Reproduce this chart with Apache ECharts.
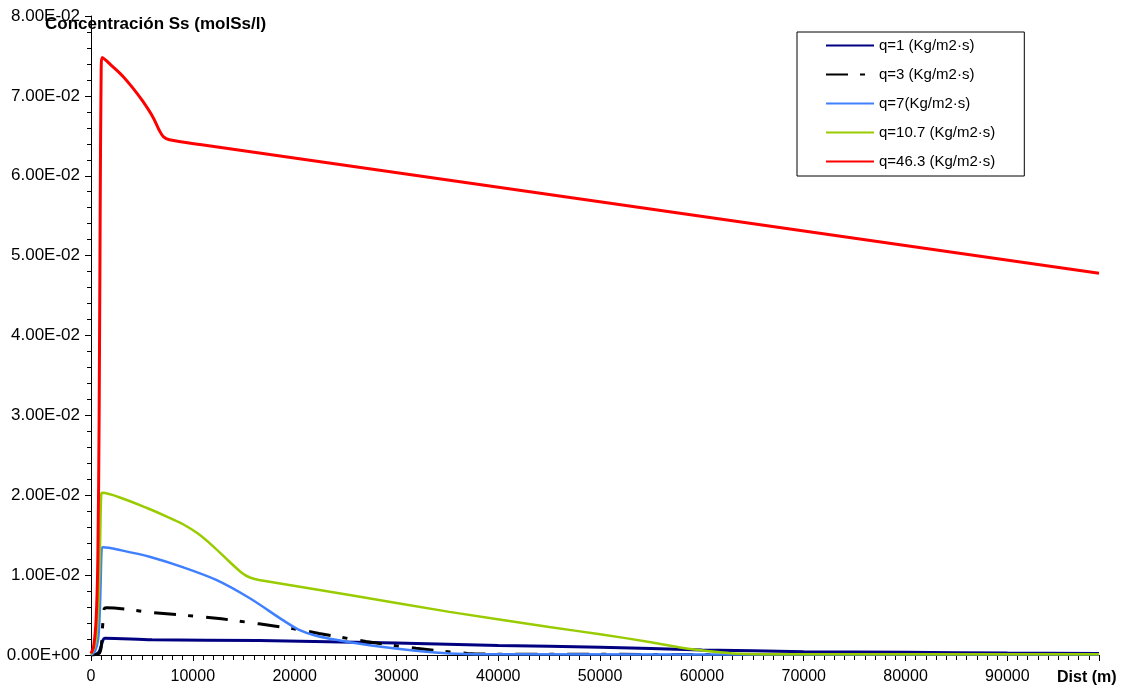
<!DOCTYPE html>
<html>
<head>
<meta charset="utf-8">
<script src="https://cdn.jsdelivr.net/npm/echarts@6/dist/echarts.min.js"></script>
<style>html,body{margin:0;padding:0;background:#fff;}#chart{width:1125px;height:693px;}</style>
</head>
<body>
<div id="chart"></div>
<script>
// Tick labels
const yTickLabels = ['0.00E+00','1.00E-02','2.00E-02','3.00E-02','4.00E-02','5.00E-02','6.00E-02','7.00E-02','8.00E-02'];
const xTickLabels = ['0','10000','20000','30000','40000','50000','60000','70000','80000','90000'];
const seriesNames = ['q=1 (Kg/m2·s)','q=3 (Kg/m2·s)','q=7(Kg/m2·s)','q=10.7 (Kg/m2·s)','q=46.3 (Kg/m2·s)'];

// Series values [distance (m), concentration (molSs/l)]
const q1 = [[0,0],[500,0.0001],[800,0.0004],[1000,0.0011],[1150,0.0018],[1350,0.0021],[6000,0.0019],[16500,0.0018],[30000,0.0015],[40000,0.0012],[50000,0.00096],[60000,0.00064],[70000,0.00042],[80000,0.00033],[90000,0.00025],[99000,0.0002]];
const q3 = [[0,0],[800,0.0002],[1000,0.001],[1100,0.003],[1200,0.0045],[1300,0.0058],[1500,0.0059],[6200,0.0053],[12300,0.0046],[16500,0.0039],[19800,0.0033],[22400,0.0027],[27000,0.0017],[31900,0.00084],[37000,0.0002],[40000,0.0001],[99000,0.00005]];
const q7 = [[0,0],[400,0.0005],[700,0.002],[850,0.005],[950,0.009],[1050,0.0133],[1200,0.0135],[3000,0.0131],[5750,0.0123],[9000,0.0110],[12300,0.0094],[15600,0.0071],[18800,0.0044],[20500,0.0031],[22100,0.0024],[25400,0.0016],[28700,0.0010],[31900,0.00054],[35200,0.0002],[38500,0.0001],[99000,0.00005]];
const q10 = [[0,0.0001],[300,0.0008],[500,0.002],[650,0.0045],[800,0.009],[900,0.0145],[1000,0.0200],[1100,0.0203],[3300,0.0195],[5500,0.0184],[7500,0.0173],[9000,0.0164],[10500,0.0152],[12000,0.0136],[13500,0.0118],[14800,0.0103],[15600,0.0097],[16500,0.0094],[25400,0.0075],[35200,0.0054],[45000,0.0035],[50000,0.0026],[55000,0.0016],[58000,0.0009],[60500,0.0005],[63000,0.0002],[66000,0.0001],[99000,0.0001]];
const q46 = [[0,0.0002],[250,0.001],[500,0.0044],[670,0.012],[800,0.03],[900,0.055],[1000,0.0735],[1100,0.0748],[2100,0.0737],[3100,0.0725],[4100,0.0710],[5100,0.0693],[6100,0.0673],[6700,0.0657],[7100,0.0649],[7700,0.0645],[10700,0.0639],[99000,0.0478]];

const colors = ['#000080','#000000','#4080FF','#99CC00','#FF0000'];
const widths = [3,3,2.5,2.5,3];
const dataSets = [q1,q3,q7,q10,q46];

const chart = echarts.init(document.getElementById('chart'));
const font = 'Liberation Sans, Arial, sans-serif';
chart.setOption({
  animation: false,
  backgroundColor: '#fff',
  title: [
    {text: 'Concentración Ss (molSs/l)', left: 45, top: 16, padding: 0,
     textStyle: {fontFamily: font, fontSize: 17, fontWeight: 'bold', color: '#000'}},
    {text: 'Dist (m)', left: 1057, top: 670, padding: 0,
     textStyle: {fontFamily: font, fontSize: 16, fontWeight: 'bold', color: '#000'}}
  ],
  grid: {left: 91, right: 26, top: 16, bottom: 38, containLabel: false},
  legend: {
    orient: 'vertical', left: 797, top: 32,
    padding: [6, 29, 7, 28],
    itemWidth: 48, itemHeight: 14, itemGap: 14,
    borderColor: '#000', borderWidth: 1, backgroundColor: '#fff',
    data: seriesNames,
    itemStyle: {opacity: 0},
    textStyle: {fontFamily: font, fontSize: 15, color: '#000', lineHeight: 15}
  },
  xAxis: {
    type: 'value', min: 0, max: 99000, interval: 10000,
    axisLine: {show: true, lineStyle: {color: '#000', width: 1}},
    axisTick: {show: true, length: 6, lineStyle: {color: '#000'}},
    minorTick: {show: true, splitNumber: 10, length: 5, lineStyle: {color: '#000'}},
    splitLine: {show: false},
    axisLabel: {fontFamily: font, fontSize: 16, color: '#000', margin: 14,
      formatter: function (v) { const i = Math.round(v / 10000); return xTickLabels[i] !== undefined ? xTickLabels[i] : ''; }}
  },
  yAxis: {
    type: 'value', min: 0, max: 0.08, interval: 0.01,
    axisLine: {show: true, lineStyle: {color: '#000', width: 1}},
    axisTick: {show: true, length: 6, lineStyle: {color: '#000'}},
    minorTick: {show: true, splitNumber: 5, length: 4, lineStyle: {color: '#000'}},
    splitLine: {show: false},
    axisLabel: {fontFamily: font, fontSize: 17, color: '#000', margin: 11,
      formatter: function (v) { return yTickLabels[Math.round(v / 0.01)]; }}
  },
  series: dataSets.map(function (d, i) {
    return {
      name: seriesNames[i], type: 'line', data: d, symbol: 'none', showSymbol: false,
      smooth: 0.3, z: 2 + i,
      lineStyle: {color: colors[i], width: widths[i], type: i === 1 ? [22, 12, 5, 13] : 'solid'},
      itemStyle: {color: colors[i]}
    };
  })
});
</script>
</body>
</html>
